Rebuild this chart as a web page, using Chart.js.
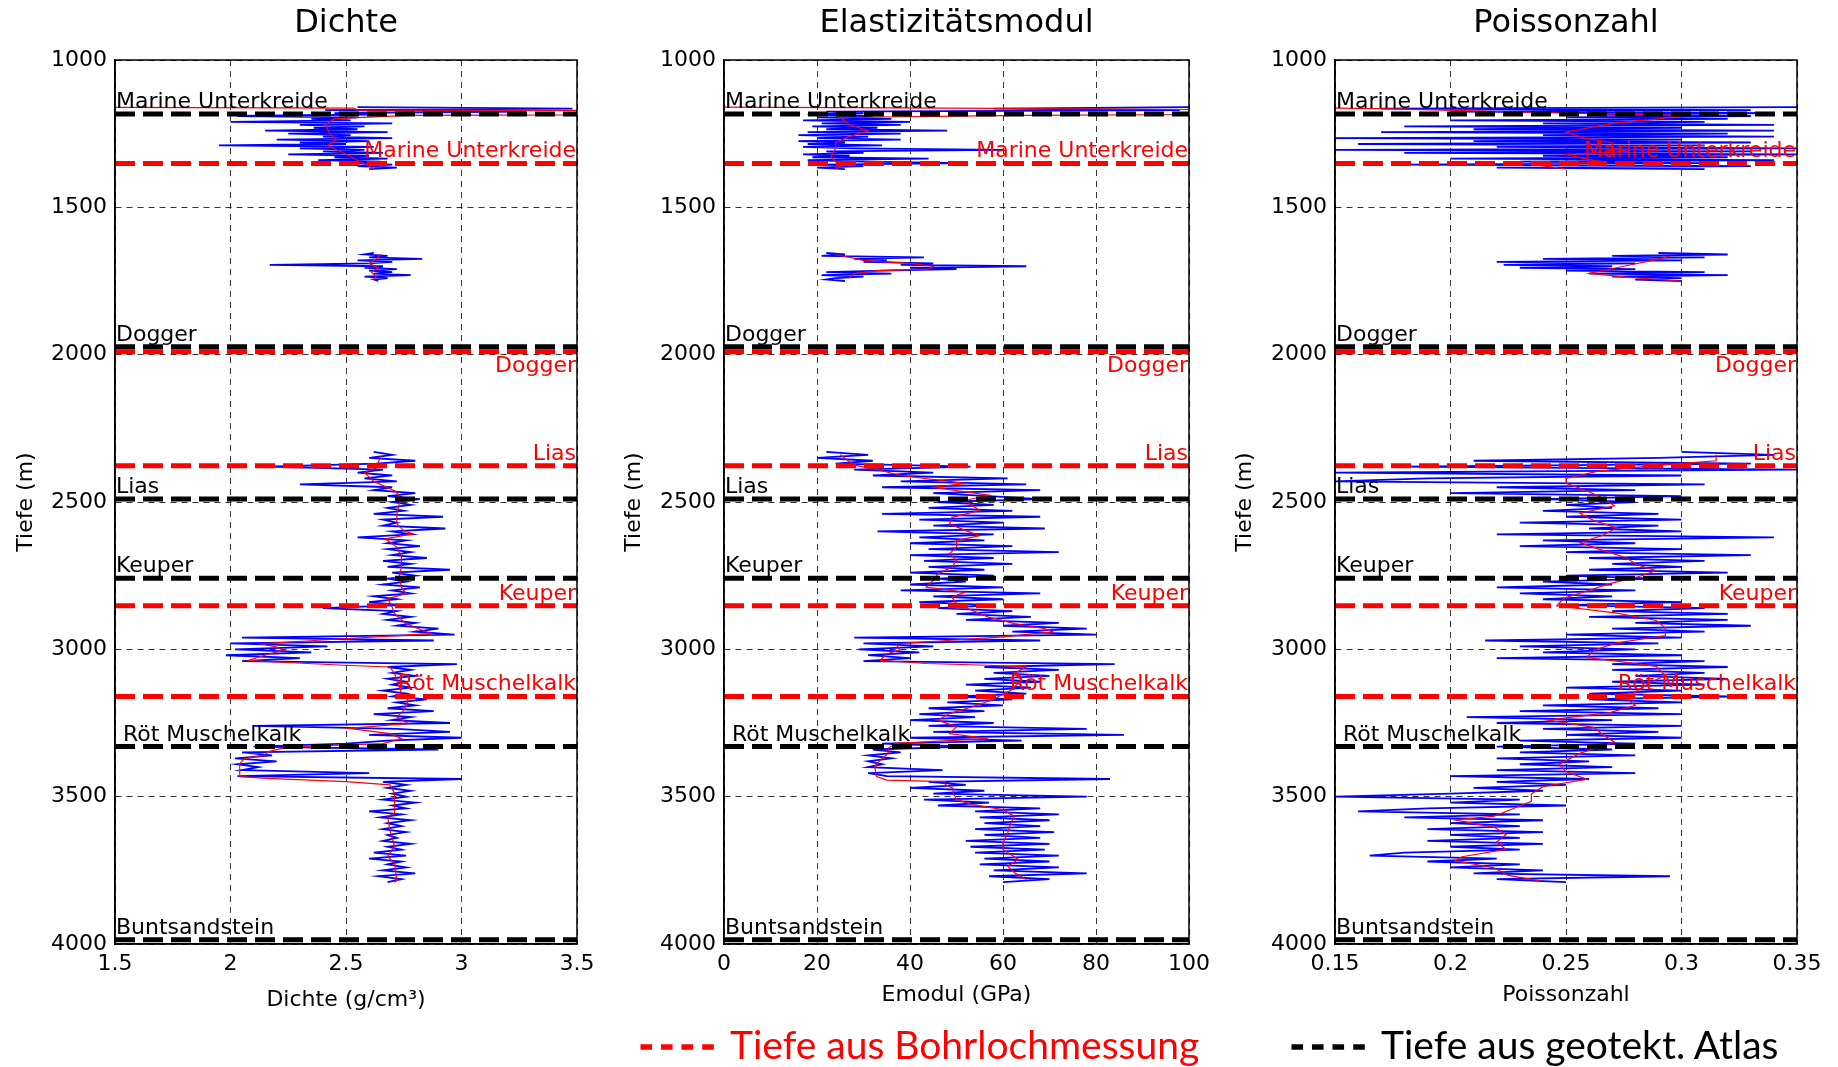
<!DOCTYPE html>
<html lang="de">
<head>
<meta charset="UTF-8">
<title>Dichte, Elastizitätsmodul, Poissonzahl</title>
<script src="https://cdn.jsdelivr.net/npm/chart.js@4"></script>
<style>
  html, body { margin: 0; padding: 0; background: #fff; }
  body { width: 1838px; height: 1067px; position: relative; overflow: hidden; }
  canvas { position: absolute; top: 0; }
  .legend { position: absolute; top: 1021px; font-family: Lato, 'Open Sans', sans-serif; font-size: 39px; line-height: 46px; white-space: nowrap; }
  .legend .dash { font-weight: bold; letter-spacing: 6px; -webkit-text-stroke: 1.5px currentColor; }
</style>
</head>
<body>
<canvas id="c1" width="625" height="1020" style="left:0px"></canvas>
<canvas id="c2" width="640" height="1020" style="left:600px"></canvas>
<canvas id="c3" width="628" height="1020" style="left:1210px"></canvas>
<div class="legend" style="left:639px;color:#ff0000"><span class="dash">----</span> Tiefe aus Bohrlochmessung</div>
<div class="legend" style="left:1290px;color:#000000"><span class="dash">----</span> Tiefe aus geotekt. Atlas</div>
<script>
// Schichtgrenzen (Tiefe in m)
const atlasNames = ['Marine Unterkreide', 'Dogger', 'Lias', 'Keuper', ' Röt Muschelkalk', 'Buntsandstein'];
const atlasDepths = [1183, 1973, 2490, 2759, 3330, 3986];
const boreNames = ['Marine Unterkreide', 'Dogger', 'Lias', 'Keuper', 'Röt Muschelkalk'];
const boreDepths = [1351, 1990, 2377, 2852, 3160];

// Achsenbeschriftungen
const depthTicks = ['1000', '1500', '2000', '2500', '3000', '3500', '4000'];
const dichteTicks = ['1.5', '2', '2.5', '3', '3.5'];
const emodulTicks = ['0', '20', '40', '60', '80', '100'];
const poissonTicks = ['0.15', '0.2', '0.25', '0.3', '0.35'];

// Messtiefen der Logs (drei Abschnitte)
const depthA = [1160, 1165, 1170, 1175, 1180, 1185, 1190, 1195, 1200, 1205,
  1210, 1215, 1220, 1225, 1230, 1235, 1240, 1245, 1250, 1255,
  1260, 1265, 1270, 1275, 1280, 1285, 1290, 1295, 1300, 1305,
  1310, 1315, 1320, 1325, 1330, 1335, 1340, 1345, 1350, 1355,
  1360, 1365, 1370];
const depthB = [1655, 1660, 1665, 1670, 1675, 1680, 1685, 1690, 1695, 1700,
  1705, 1710, 1715, 1720, 1725, 1730, 1735, 1740, 1745, 1750];
const depthC = [2330, 2340, 2350, 2360, 2370, 2380, 2390,
  2400, 2410, 2420, 2430, 2440, 2450, 2460, 2470, 2480, 2490,
  2500, 2510, 2520, 2530, 2540, 2550, 2560, 2570, 2580, 2590,
  2600, 2610, 2620, 2630, 2640, 2650, 2660, 2670, 2680, 2690,
  2700, 2710, 2720, 2730, 2740, 2750, 2760, 2770, 2780, 2790,
  2800, 2810, 2820, 2830, 2840, 2850, 2860, 2870, 2880, 2890,
  2900, 2910, 2920, 2930, 2940, 2950, 2960, 2970, 2980, 2990,
  3000, 3010, 3020, 3030, 3040, 3050, 3060, 3070, 3080, 3090,
  3100, 3110, 3120, 3130, 3140, 3150, 3160, 3170, 3180, 3190,
  3200, 3210, 3220, 3230, 3240, 3250, 3260, 3270, 3280, 3290,
  3300, 3310, 3320, 3330, 3340, 3350, 3360, 3370, 3380, 3390,
  3400, 3410, 3420, 3430, 3440, 3450, 3460, 3470, 3480, 3490,
  3500, 3510, 3520, 3530, 3540, 3550, 3560, 3570, 3580, 3590,
  3600, 3610, 3620, 3630, 3640, 3650, 3660, 3670, 3680, 3690,
  3700, 3710, 3720, 3730, 3740, 3750, 3760, 3770, 3780, 3790];

// Dichte (g/cm3)
const dichteA = [2.55, 3.48, 2.41, 3.28, 2.45, 2.6, 2.03, 2.55, 2.35, 2.52,
  2.0, 2.7, 2.3, 2.58, 2.36, 2.55, 2.15, 2.68, 2.25, 2.52,
  2.4, 2.7, 2.2, 2.6, 2.3, 2.5, 1.95, 2.62, 2.3, 2.58,
  2.4, 2.66, 2.25, 2.6, 2.45, 2.68, 2.38, 2.65, 2.5, 2.7,
  2.55, 2.72, 2.6];
const dichteB = [2.62, 2.58, 2.68, 2.6, 2.83, 2.55, 2.7, 2.6, 2.17, 2.66,
  2.58, 2.72, 2.6, 2.7, 2.62, 2.78, 2.58, 2.68, 2.62, 2.64];
const dichteC = [2.62, 2.7, 2.6, 2.8, 2.63, 2.16, 2.66,
  2.55, 2.7, 2.58, 2.72, 2.3, 2.7, 2.62, 2.8, 2.68, 2.82,
  2.7, 2.78, 2.68, 2.75, 2.62, 2.92, 2.66, 2.72, 2.66, 2.93,
  2.7, 2.78, 2.55, 2.76, 2.68, 2.82, 2.68, 2.78, 2.7, 2.85,
  2.66, 2.78, 2.68, 2.95, 2.7, 2.8, 2.68, 2.76, 2.66, 2.82,
  2.7, 2.78, 2.62, 2.72, 2.6, 2.74, 2.4, 2.72, 2.66, 2.78,
  2.68, 2.8, 2.72, 2.9, 2.8, 2.97, 2.05, 2.88, 2.0, 2.42,
  2.02, 2.35, 1.98, 2.3, 2.05, 2.98, 2.68, 2.78, 2.7, 2.8,
  2.68, 2.76, 2.7, 2.78, 2.66, 2.76, 2.7, 2.85, 2.72, 2.8,
  2.68, 2.88, 2.62, 2.78, 2.7, 2.95, 2.1, 2.72, 2.95, 2.6,
  3.0, 2.68, 2.5, 2.1, 2.9, 2.05, 2.18, 2.02, 2.2, 2.03,
  2.12, 2.05, 2.6, 2.03, 3.0, 2.66, 2.76, 2.68, 2.78, 2.7,
  2.76, 2.66, 2.8, 2.7, 2.76, 2.6, 2.74, 2.65, 2.78, 2.68,
  2.74, 2.66, 2.76, 2.68, 2.72, 2.66, 2.78, 2.68, 2.74, 2.62,
  2.76, 2.6, 2.74, 2.68, 2.76, 2.66, 2.8, 2.64, 2.74, 2.68];
const dichteTrendDepth = [1161, 1163, 1170, 1171, 1186, 1188, 1199, 1220, 1250, 1270,
  1290, 1320, 1340, 1360, 1370, 1500, 1660, 1675, 1690, 1705,
  1720, 1735, 1745, 2000, 2345, 2385, 2400, 2430, 2462, 2484,
  2507, 2541, 2574, 2597, 2608, 2625, 2653, 2687, 2721, 2755,
  2789, 2811, 2828, 2857, 2879, 2913, 2947, 2964, 2981, 2992,
  3003, 3015, 3037, 3043, 3054, 3060, 3082, 3150, 3173, 3207,
  3229, 3252, 3268, 3286, 3303, 3320, 3331, 3348, 3359, 3371,
  3388, 3432, 3438, 3449, 3460, 3488, 3556, 3568, 3613, 3669,
  3703, 3726, 3782, 3791];
const dichteTrend = [1.5, 2.53, 2.55, 3.5, 3.5, 2.77, 2.45, 2.41, 2.43, 2.46,
  2.42, 2.5, 2.55, 2.6, 2.62, null, 2.65, 2.63, 2.6, 2.64,
  2.61, 2.63, 2.62, null, 2.65, 2.63, 2.58, 2.62, 2.71, 2.74,
  2.73, 2.72, 2.72, 2.75, 2.79, 2.67, 2.72, 2.74, 2.74, 2.73,
  2.74, 2.76, 2.68, 2.7, 2.71, 2.76, 2.87, 2.49, 2.13, 2.2,
  2.23, 2.17, 2.08, 2.2, 2.49, 2.69, 2.71, 2.74, 2.77, 2.75,
  2.72, 2.77, 2.51, 2.69, 2.74, 2.66, 2.25, 2.16, 2.15, 2.06,
  2.04, 2.04, 2.16, 2.5, 2.69, 2.71, 2.71, 2.68, 2.69, 2.71,
  2.68, 2.71, 2.72, 2.71];

// Elastizitaetsmodul (GPa)
const emodulA = [100, 58, 98, 22, 30, 18, 32, 20, 36, 17,
  40, 21, 38, 19, 33, 22, 48, 18, 38, 16,
  31, 20, 38, 16, 26, 18, 34, 17, 28, 60,
  22, 30, 17, 27, 19, 44, 18, 30, 52, 21,
  30, 20, 26];
const emodulB = [22, 26, 21, 43, 28, 35, 30, 45, 38, 65,
  40, 50, 34, 22, 36, 21, 30, 24, 22, 26];
const emodulC = [22, 31, 20, 32, 24, 53, 28,
  45, 32, 61, 38, 65, 34, 68, 45, 57, 68,
  46, 58, 44, 62, 34, 68, 42, 60, 45, 69,
  33, 58, 42, 56, 40, 62, 44, 72, 40, 58,
  43, 62, 44, 56, 40, 58, 46, 52, 40, 60,
  38, 68, 45, 60, 42, 58, 46, 62, 50, 66,
  52, 72, 60, 78, 62, 80, 28, 68, 30, 45,
  29, 42, 31, 40, 30, 84, 56, 72, 58, 70,
  56, 68, 52, 66, 54, 65, 50, 62, 48, 60,
  44, 56, 42, 54, 40, 58, 44, 78, 45, 86,
  40, 64, 34, 52, 32, 38, 31, 36, 31, 34,
  31, 47, 31, 35, 83, 44, 52, 40, 56, 45,
  78, 43, 57, 46, 68, 54, 72, 55, 70, 56,
  68, 54, 71, 56, 68, 52, 70, 53, 69, 54,
  72, 56, 70, 55, 72, 58, 78, 57, 70, 60];
const emodulTrendDepth = [1160, 1163, 1168, 1185, 1188, 1195, 1220, 1240, 1260, 1280,
  1300, 1330, 1360, 1370, 1500, 1660, 1680, 1690, 1700, 1710,
  1715, 1725, 1740, 2000, 2340, 2375, 2390, 2410, 2437, 2450,
  2477, 2495, 2529, 2552, 2574, 2597, 2614, 2631, 2653, 2676,
  2699, 2721, 2744, 2766, 2789, 2806, 2823, 2845, 2868, 2890,
  2913, 2930, 2941, 2958, 2970, 2981, 3003, 3015, 3037, 3048,
  3054, 3060, 3082, 3105, 3139, 3173, 3195, 3218, 3240, 3263,
  3286, 3303, 3319, 3336, 3353, 3376, 3398, 3432, 3444, 3449,
  3460, 3472, 3488, 3510, 3527, 3544, 3567, 3589, 3623, 3657,
  3679, 3713, 3736, 3758, 3781];
const emodulTrend = [0, 48, 100, 100, 64, 25, 27, 31, 27, 24,
  24, 23, 25, 24, null, 24, 30, 40, 45, 44,
  33, 28, 27, null, 25, 28, 33, 38, 52, 45,
  57, 51.8, 55, 49, 48.5, 52, 55, 50, 50, 48.5,
  50, 49, 46, 45, 43.5, 51.8, 49, 50, 53.4, 56.7,
  62.5, 69, 70.7, 60, 48, 37, 37.8, 35, 33.6, 43.5,
  56.7, 65, 62.5, 64, 61.7, 57.5, 53.4, 48.5, 46, 50,
  48.5, 56.7, 37, 35.3, 35.3, 33.6, 32.4, 32.8, 35, 47.6,
  47.6, 49.3, 49.3, 50, 53.4, 60, 62.5, 61.7, 61, 60,
  60, 63.3, 61, 62.5, 65];

// Poissonzahl
const poissonA = [0.35, 0.17, 0.33, 0.2, 0.34, 0.26, 0.33, 0.25, 0.32, 0.2,
  0.31, 0.24, 0.34, 0.18, 0.3, 0.21, 0.34, 0.17, 0.32, 0.24,
  0.34, 0.15, 0.3, 0.21, 0.33, 0.16, 0.31, 0.22, 0.35, 0.15,
  0.33, 0.18, 0.35, 0.24, 0.32, 0.2, 0.34, 0.23, 0.31, 0.18,
  0.33, 0.22, 0.31];
const poissonB = [0.29, 0.32, 0.27, 0.31, 0.24, 0.3, 0.22, 0.28, 0.223, 0.27,
  0.23, 0.28, 0.25, 0.31, 0.26, 0.32, 0.27, 0.3, 0.28, 0.3];
const poissonC = [0.3, 0.34, 0.29, 0.21, 0.33, 0.18, 0.35,
  0.15, 0.3, 0.19, 0.15, 0.31, 0.22, 0.28, 0.2, 0.3, 0.24,
  0.28, 0.25, 0.27, 0.24, 0.29, 0.25, 0.3, 0.23, 0.29, 0.26,
  0.3, 0.22, 0.34, 0.24, 0.28, 0.23, 0.3, 0.25, 0.33, 0.26,
  0.31, 0.27, 0.3, 0.26, 0.32, 0.25, 0.29, 0.24, 0.27, 0.22,
  0.28, 0.23, 0.27, 0.24, 0.3, 0.25, 0.31, 0.27, 0.32, 0.26,
  0.32, 0.28, 0.33, 0.27, 0.31, 0.25, 0.3, 0.215, 0.29, 0.23,
  0.28, 0.24, 0.3, 0.22, 0.31, 0.27, 0.32, 0.27, 0.31, 0.28,
  0.32, 0.27, 0.31, 0.25, 0.3, 0.26, 0.32, 0.26, 0.3, 0.24,
  0.29, 0.23, 0.3, 0.207, 0.27, 0.22, 0.3, 0.24, 0.29, 0.25,
  0.3, 0.23, 0.28, 0.22, 0.27, 0.23, 0.28, 0.22, 0.26, 0.23,
  0.27, 0.22, 0.28, 0.2, 0.26, 0.22, 0.25, 0.21, 0.24, 0.2,
  0.15, 0.23, 0.2, 0.25, 0.19, 0.16, 0.23, 0.18, 0.24, 0.2,
  0.23, 0.19, 0.24, 0.2, 0.23, 0.19, 0.24, 0.2, 0.23, 0.18,
  0.165, 0.22, 0.19, 0.23, 0.2, 0.24, 0.21, 0.295, 0.22, 0.25];
const poissonTrendDepth = [1163, 1166, 1180, 1188, 1200, 1215, 1230, 1245, 1265, 1280,
  1300, 1310, 1320, 1335, 1345, 1355, 1370, 1500, 1665, 1676,
  1700, 1724, 1738, 1750, 2000, 2340, 2360, 2375, 2395, 2420,
  2437, 2462, 2487, 2513, 2538, 2563, 2588, 2613, 2638, 2664,
  2689, 2714, 2733, 2752, 2777, 2802, 2827, 2852, 2877, 2902,
  2927, 2953, 2978, 3003, 3028, 3040, 3058, 3089, 3114, 3140,
  3165, 3190, 3215, 3240, 3265, 3290, 3315, 3327, 3353, 3390,
  3415, 3441, 3466, 3491, 3516, 3541, 3566, 3579, 3604, 3629,
  3654, 3679, 3704, 3717, 3742, 3767, 3786];
const poissonTrend = [0.15, 0.175, 0.25, 0.3, 0.29, 0.27, 0.26, 0.25, 0.258, 0.27,
  0.27, 0.276, 0.25, 0.258, 0.265, 0.236, 0.25, null, 0.295, 0.29,
  0.275, 0.26, 0.277, 0.3, null, 0.315, 0.315, 0.29, 0.264, 0.25,
  0.25, 0.259, 0.266, 0.271, 0.256, 0.262, 0.272, 0.266, 0.256, 0.266,
  0.276, 0.281, 0.289, 0.282, 0.269, 0.259, 0.249, 0.246, 0.272, 0.289,
  0.293, 0.293, 0.272, 0.262, 0.259, 0.272, 0.289, 0.293, 0.286, 0.281,
  0.276, 0.28, 0.269, 0.242, 0.262, 0.266, 0.271, 0.266, 0.256, 0.247,
  0.25, 0.259, 0.24, 0.235, 0.235, 0.227, 0.219, 0.202, 0.219, 0.224,
  0.22, 0.224, 0.205, 0.202, 0.219, 0.225, 0.239];

const depthMin = 1000, depthMax = 4000, depthStep = 500;

Chart.defaults.font.family = "'DejaVu Sans', sans-serif";
Chart.defaults.color = '#000';

function pts(xs, ys) {
  return ys.map((y, i) => ({ x: xs[i], y: y }));
}

// Beschriftung der Schichtgrenzen und Rahmen
const layerLabels = {
  id: 'layerLabels',
  afterDatasetsDraw(chart) {
    const { ctx, chartArea: a, scales: { y } } = chart;
    ctx.save();
    ctx.font = "22px 'DejaVu Sans'";
    ctx.textBaseline = 'alphabetic';
    ctx.fillStyle = '#000';
    ctx.textAlign = 'left';
    atlasNames.forEach((n, i) => {
      ctx.fillText(n, a.left + 1, y.getPixelForValue(atlasDepths[i]) - 6);
    });
    ctx.fillStyle = '#ff0000';
    ctx.textAlign = 'right';
    boreNames.forEach((n, i) => {
      const py = y.getPixelForValue(boreDepths[i]);
      ctx.fillText(n, a.right - 1, n === 'Dogger' ? py + 20 : py - 6);
    });
    ctx.restore();
  },
  afterDraw(chart) {
    const { ctx, chartArea: a } = chart;
    ctx.save();
    ctx.strokeStyle = '#000';
    ctx.lineWidth = 1.5;
    ctx.strokeRect(a.left, a.top, a.right - a.left, a.bottom - a.top);
    ctx.restore();
  }
};

const panels = [
  { id: 'c1', title: 'Dichte', xTitle: 'Dichte (g/cm³)', min: 1.5, max: 3.5, step: 0.5, ticks: dichteTicks,
    blue: [dichteA, dichteB, dichteC], trendDepth: dichteTrendDepth, trend: dichteTrend,
    padLeft: 13, padRight: 48, yW: 102, xH: 69 },
  { id: 'c2', title: 'Elastizitätsmodul', xTitle: 'Emodul (GPa)', min: 0, max: 100, step: 20, ticks: emodulTicks,
    blue: [emodulA, emodulB, emodulC], trendDepth: emodulTrendDepth, trend: emodulTrend,
    padLeft: 21, padRight: 51, yW: 103, xH: 64 },
  { id: 'c3', title: 'Poissonzahl', xTitle: 'Poissonzahl', min: 0.15, max: 0.35, step: 0.05, ticks: poissonTicks,
    blue: [poissonA, poissonB, poissonC], trendDepth: poissonTrendDepth, trend: poissonTrend,
    padLeft: 22, padRight: 41, yW: 103, xH: 64 }
];

const depthSets = [depthA, depthB, depthC];

panels.forEach(p => {
  const datasets = [];
  // Grenzen aus geotekt. Atlas (schwarz) und Bohrlochmessung (rot)
  atlasDepths.forEach(d => datasets.push({
    data: [{ x: p.min, y: d }, { x: p.max, y: d }],
    borderColor: '#000000', borderWidth: 5, borderDash: [20, 8], order: 0
  }));
  boreDepths.forEach(d => datasets.push({
    data: [{ x: p.min, y: d }, { x: p.max, y: d }],
    borderColor: '#ff0000', borderWidth: 5, borderDash: [20, 8], order: 0
  }));
  // geglaetteter Verlauf
  datasets.push({
    data: pts(p.trend, p.trendDepth),
    borderColor: '#ff0000', borderWidth: 1.2, order: 1
  });
  // Messwerte
  p.blue.forEach((vals, k) => datasets.push({
    data: pts(vals, depthSets[k]),
    borderColor: '#0000ff', borderWidth: 1.8, order: 2
  }));

  const canvas = document.getElementById(p.id);
  new Chart(canvas.getContext('2d'), {
    type: 'scatter',
    data: { datasets: datasets },
    options: {
      responsive: false,
      animation: false,
      devicePixelRatio: 1,
      showLine: true,
      spanGaps: false,
      elements: { point: { radius: 0, hoverRadius: 0 }, line: { tension: 0, fill: false } },
      layout: { padding: { left: p.padLeft, right: p.padRight, top: 0, bottom: 1020 - 944 - p.xH } },
      plugins: {
        legend: { display: false },
        tooltip: { enabled: false },
        title: {
          display: true, text: p.title, fullSize: false, color: '#000',
          font: { size: 32, weight: 'normal' }, padding: { top: 4, bottom: 17.6 }
        }
      },
      scales: {
        x: {
          type: 'linear', position: 'bottom', min: p.min, max: p.max,
          afterFit: s => { s.height = p.xH; },
          ticks: { stepSize: p.step, font: { size: 22 }, color: '#000', padding: 7, maxRotation: 0,
                   autoSkip: false, callback: v => p.ticks[Math.round((v - p.min) / p.step)] },
          grid: { color: 'rgba(0,0,0,0.8)', lineWidth: 1, drawTicks: false },
          border: { display: true, color: '#000', width: 1.5, dash: [6, 5] },
          title: { display: true, text: p.xTitle, font: { size: 22 }, color: '#000', padding: 0 }
        },
        y: {
          type: 'linear', position: 'left', min: depthMin, max: depthMax, reverse: true,
          afterFit: s => { s.width = p.yW; },
          ticks: { stepSize: depthStep, font: { size: 22 }, color: '#000', padding: 8,
                   autoSkip: false, callback: v => depthTicks[Math.round((v - depthMin) / depthStep)] },
          grid: { color: 'rgba(0,0,0,0.8)', lineWidth: 1, drawTicks: false },
          border: { display: true, color: '#000', width: 1.5, dash: [6, 5] },
          title: { display: true, text: 'Tiefe (m)', font: { size: 22 }, color: '#000', padding: 0 }
        }
      }
    },
    plugins: [layerLabels]
  });
});
</script>
</body>
</html>
